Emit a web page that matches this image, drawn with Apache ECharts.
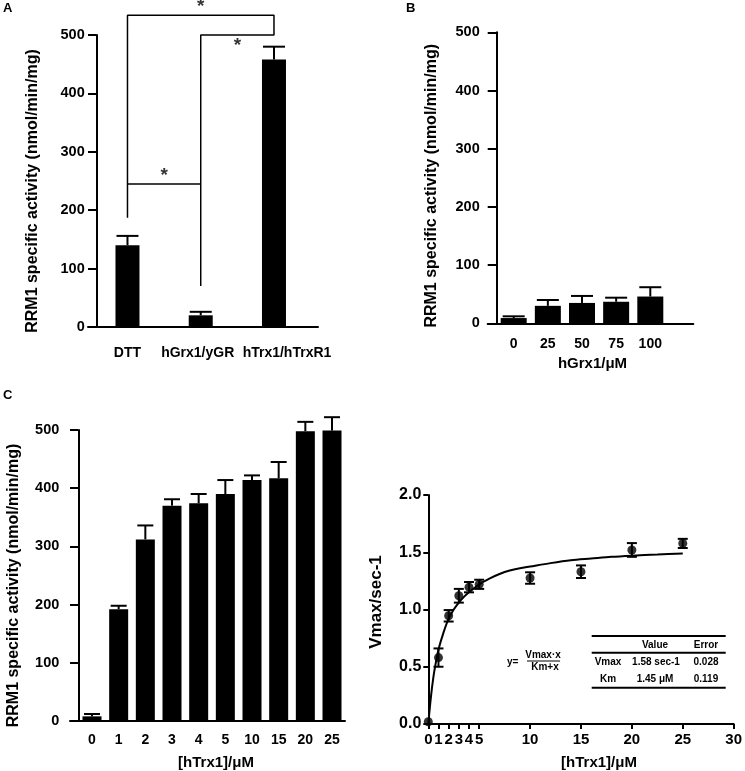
<!DOCTYPE html>
<html>
<head>
<meta charset="utf-8">
<script src="https://cdn.jsdelivr.net/npm/echarts@6/dist/echarts.min.js"></script>
<style>
html,body{margin:0;padding:0;background:#fff;}
#c{width:745px;height:771px;}
</style>
</head>
<body>
<div id="c"></div>
<script>
// ---- Panel A data ----
var catsA = ['DTT', 'hGrx1/yGR', 'hTrx1/hTrxR1'];
var meanA = [140, 20, 458];
var sdA = [16, 6, 22];
// significance brackets (category index, activity value)
var bracketA1 = [[0, 187], [0, 534], [2, 534], [2, 500], [1, 500], [1, 70]];
var bracketA2 = [[0, 245], [1, 245]];
var starsA = [[1, 534], [1.5, 500], [0.5, 245]];

// ---- Panel B data ----
var catsB = ['0', '25', '50', '75', '100'];
var meanB = [9, 30, 35, 37, 46];
var sdB = [3, 10, 12, 7, 16];

// ---- Panel C (bars) data ----
var catsC = ['0', '1', '2', '3', '4', '5', '10', '15', '20', '25'];
var meanC = [8, 192, 312, 370, 374, 390, 414, 417, 498, 499];
var sdC = [4, 6, 24, 11, 16, 24, 8, 28, 16, 23];

// ---- Panel C (kinetics) data ----
var xD = [0, 1, 2, 3, 4, 5, 10, 15, 20, 25];
var yD = [0.02, 0.58, 0.945, 1.12, 1.195, 1.22, 1.275, 1.33, 1.52, 1.577];
var eD = [0, 0.08, 0.05, 0.06, 0.045, 0.04, 0.05, 0.055, 0.06, 0.04];
// fitted curve
var fitX = [0, 0.25, 0.5, 0.75, 1, 1.5, 2, 2.5, 3, 3.5, 4, 5, 6, 7, 8, 9, 10, 12, 14, 16, 18, 20, 22.5, 25];
var fitY = [0, 0.23, 0.41, 0.54, 0.65, 0.80, 0.92, 1.00, 1.06, 1.11, 1.15, 1.22, 1.27, 1.31, 1.34, 1.36, 1.375, 1.405, 1.43, 1.445, 1.46, 1.47, 1.48, 1.49];
var xTicksD = [0, 1, 2, 3, 4, 5, 10, 15, 20, 25, 30];

var FONT = 'Liberation Sans';
var chart = echarts.init(document.getElementById('c'), null, {renderer: 'canvas'});

function idx(a) { return a.map(function (v, i) { return [i, v]; }); }
function errData(mean, sd) { return mean.map(function (v, i) { return [i, v, v + sd[i]]; }); }

function upErr(half) {
  return function (params, api) {
    var x = api.value(0), top = api.value(2);
    var a = api.coord([x, api.value(1)]), b = api.coord([x, top]);
    var st = {stroke: '#000', lineWidth: 2};
    return {type: 'group', children: [
      {type: 'line', shape: {x1: a[0], y1: a[1], x2: b[0], y2: b[1]}, style: st},
      {type: 'line', shape: {x1: b[0] - half, y1: b[1], x2: b[0] + half, y2: b[1]}, style: st}
    ]};
  };
}
function bothErr(half) {
  return function (params, api) {
    var x = api.value(0), y = api.value(1), e = api.value(2);
    if (!e) return null;
    var a = api.coord([x, y - e]), b = api.coord([x, y + e]);
    var st = {stroke: '#000', lineWidth: 2};
    return {type: 'group', children: [
      {type: 'line', shape: {x1: a[0], y1: a[1], x2: b[0], y2: b[1]}, style: st},
      {type: 'line', shape: {x1: a[0] - half, y1: a[1], x2: a[0] + half, y2: a[1]}, style: st},
      {type: 'line', shape: {x1: b[0] - half, y1: b[1], x2: b[0] + half, y2: b[1]}, style: st}
    ]};
  };
}

var lblStyle = {color: '#000', fontFamily: FONT, fontWeight: 'bold', fontSize: 14};
var nameStyle = {color: '#000', fontFamily: FONT, fontWeight: 'bold', fontSize: 15};
var axLine = {show: true, onZero: false, lineStyle: {color: '#000', width: 2}};

function barY(g, tickLen, margin, nameGap, namePad) {
  return {
    gridIndex: g,
    type: 'value', min: 0, max: 500, interval: 100, offset: -tickLen,
    axisLine: axLine, splitLine: {show: false},
    axisTick: {show: true, length: tickLen, lineStyle: {color: '#000', width: 2}},
    axisLabel: Object.assign({margin: margin}, lblStyle, {fontSize: 14.5}),
    name: 'RRM1 specific activity (nmol/min/mg)', nameLocation: 'middle', nameGap: nameGap,
    nameTextStyle: Object.assign({padding: namePad}, nameStyle, {fontSize: 16})
  };
}
function barX(g, cats, min, max, margin, rich, name, nameGap, namePad) {
  var ax = {
    gridIndex: g,
    type: 'value', min: min, max: max,
    axisLine: {show: true, onZero: false, lineStyle: {color: '#000', width: 2}},
    splitLine: {show: false}, axisTick: {show: false},
    axisLabel: Object.assign({
      margin: margin,
      customValues: cats.map(function (c, i) { return i; }),
      formatter: function (v) { var i = Math.round(v); return rich ? rich.fmt(i, cats[i]) : cats[i]; },
      rich: rich ? rich.styles : undefined
    }, lblStyle)
  };
  if (name) {
    ax.name = name; ax.nameLocation = 'middle'; ax.nameGap = nameGap;
    ax.nameTextStyle = Object.assign({padding: namePad}, nameStyle);
  }
  return ax;
}

var richA = {
  fmt: function (i, c) { return i === 2 ? '{r|' + c + '}' : (i === 1 ? '{m|' + c + '}' : c); },
  styles: {
    r: {padding: [0, 0, 0, 26], color: '#000', fontFamily: FONT, fontWeight: 'bold', fontSize: 14},
    m: {padding: [0, 6, 0, 0], color: '#000', fontFamily: FONT, fontWeight: 'bold', fontSize: 14}
  }
};

var option = {
  animation: false,
  backgroundColor: '#fff',
  grid: [
    {left: 88, top: 35, width: 230, height: 292},
    {left: 487.7, top: 32.3, width: 205.6, height: 291},
    {left: 70, top: 430, width: 275, height: 291},
    {left: 428.3, top: 495, width: 309.4, height: 229.3}
  ],
  xAxis: [
    barX(0, catsA, -0.539, 2.601, 19, richA),
    barX(1, catsB, -0.761, 5.259, 14, null, 'hGrx1/\u03bcM', 33, [0, 0, 0, 4]),
    barX(2, catsC, -0.825, 9.487, 12, null, '[hTrx1]/\u03bcM', 34, [0, 0, 0, 17]),
    {
      type: 'value', min: 0, max: 30, gridIndex: 3,
      axisLine: {show: true, onZero: false, lineStyle: {color: '#000', width: 2}},
      splitLine: {show: false},
      axisTick: {show: true, length: 5, customValues: xTicksD, lineStyle: {color: '#000', width: 2}},
      axisLabel: Object.assign({margin: 8, customValues: xTicksD}, lblStyle, {fontSize: 15}),
      name: '[hTrx1]/\u03bcM', nameLocation: 'middle', nameGap: 31,
      nameTextStyle: Object.assign({padding: [0, 0, 0, 36]}, nameStyle)
    }
  ],
  yAxis: [
    barY(0, 8.7, 12, 56, [0, 20, 0, 0]),
    barY(1, 9, 17, 57, [0, 16, 0, 0]),
    barY(2, 8.3, 19, 57, [0, 20, 0, 0]),
    {
      type: 'value', min: 0, max: 2, interval: 0.5, gridIndex: 3,
      axisLine: axLine, splitLine: {show: false},
      axisTick: {show: true, length: 5, lineStyle: {color: '#000', width: 2}},
      axisLabel: Object.assign({margin: 7, formatter: function (v) { return v.toFixed(1); }}, lblStyle, {fontSize: 16}),
      name: 'Vmax/sec-1', nameLocation: 'middle', nameGap: 43,
      nameTextStyle: Object.assign({padding: [0, 0, 0, 15]}, nameStyle, {fontSize: 17})
    }
  ],
  series: [
    // Panel A
    {type: 'bar', xAxisIndex: 0, yAxisIndex: 0, data: idx(meanA), barWidth: 24, itemStyle: {color: '#000'}},
    {type: 'custom', xAxisIndex: 0, yAxisIndex: 0, data: errData(meanA, sdA), renderItem: upErr(11), z: 1},
    {type: 'line', xAxisIndex: 0, yAxisIndex: 0, data: bracketA1, symbol: 'none', clip: false,
     lineStyle: {color: '#000', width: 1.5}},
    {type: 'line', xAxisIndex: 0, yAxisIndex: 0, data: bracketA2, symbol: 'none', clip: false,
     lineStyle: {color: '#000', width: 1.5}},
    {type: 'scatter', xAxisIndex: 0, yAxisIndex: 0, clip: false, symbolSize: 1,
     itemStyle: {color: 'rgba(0,0,0,0)'},
     data: [
       {value: starsA[0], label: {position: 'top', distance: -2}},
       {value: starsA[1], label: {position: 'bottom', distance: 1}},
       {value: starsA[2], label: {position: 'top', distance: -2}}
     ],
     label: {show: true, formatter: '*', color: '#000', fontFamily: FONT, fontWeight: 'bold', fontSize: 19}},
    // Panel B
    {type: 'bar', xAxisIndex: 1, yAxisIndex: 1, data: idx(meanB), barWidth: 26, itemStyle: {color: '#000'}},
    {type: 'custom', xAxisIndex: 1, yAxisIndex: 1, data: errData(meanB, sdB), renderItem: upErr(11), z: 1},
    // Panel C bars
    {type: 'bar', xAxisIndex: 2, yAxisIndex: 2, data: idx(meanC), barWidth: 19, itemStyle: {color: '#000'}},
    {type: 'custom', xAxisIndex: 2, yAxisIndex: 2, data: errData(meanC, sdC), renderItem: upErr(8), z: 1},
    // Panel C kinetics
    {type: 'line', xAxisIndex: 3, yAxisIndex: 3, data: fitX.map(function (x, i) { return [x, fitY[i]]; }),
     smooth: 0.3, symbol: 'none', lineStyle: {color: '#000', width: 2}},
    {type: 'custom', xAxisIndex: 3, yAxisIndex: 3, data: xD.map(function (x, i) { return [x, yD[i], eD[i]]; }),
     renderItem: bothErr(5), clip: false},
    {type: 'scatter', xAxisIndex: 3, yAxisIndex: 3, data: xD.map(function (x, i) { return [x, yD[i]]; }),
     symbolSize: 9, clip: false, itemStyle: {color: '#000'}, z: 5}
  ],
  graphic: [
    {type: 'text', left: 3, top: 2, style: {text: 'A', font: 'bold 13px "Liberation Sans"', fill: '#000'}},
    {type: 'text', left: 406, top: 2, style: {text: 'B', font: 'bold 13px "Liberation Sans"', fill: '#000'}},
    {type: 'text', left: 3, top: 389, style: {text: 'C', font: 'bold 13px "Liberation Sans"', fill: '#000'}},
    // formula
    {type: 'text', x: 507, y: 662, style: {text: 'y=', font: 'bold 10px "Liberation Sans"', fill: '#000', textVerticalAlign: 'middle'}},
    {type: 'text', x: 543, y: 655, style: {text: 'Vmax\u00b7x', font: 'bold 10px "Liberation Sans"', fill: '#000', textAlign: 'center', textVerticalAlign: 'middle'}},
    {type: 'line', shape: {x1: 527, y1: 661, x2: 560, y2: 661}, style: {stroke: '#000', lineWidth: 1}},
    {type: 'text', x: 545, y: 667, style: {text: 'Km+x', font: 'bold 10px "Liberation Sans"', fill: '#000', textAlign: 'center', textVerticalAlign: 'middle'}},
    // parameter table
    {type: 'line', shape: {x1: 591.7, y1: 636, x2: 725.7, y2: 636}, style: {stroke: '#000', lineWidth: 2}},
    {type: 'line', shape: {x1: 591.7, y1: 652.7, x2: 725.7, y2: 652.7}, style: {stroke: '#000', lineWidth: 2}},
    {type: 'line', shape: {x1: 591.7, y1: 687.7, x2: 725.7, y2: 687.7}, style: {stroke: '#000', lineWidth: 2}},
    {type: 'text', x: 655, y: 645, style: {text: 'Value', font: 'bold 10px "Liberation Sans"', fill: '#000', textAlign: 'center', textVerticalAlign: 'middle'}},
    {type: 'text', x: 706, y: 645, style: {text: 'Error', font: 'bold 10px "Liberation Sans"', fill: '#000', textAlign: 'center', textVerticalAlign: 'middle'}},
    {type: 'text', x: 608, y: 662, style: {text: 'Vmax', font: 'bold 10px "Liberation Sans"', fill: '#000', textAlign: 'center', textVerticalAlign: 'middle'}},
    {type: 'text', x: 656, y: 662, style: {text: '1.58 sec-1', font: 'bold 10px "Liberation Sans"', fill: '#000', textAlign: 'center', textVerticalAlign: 'middle'}},
    {type: 'text', x: 706, y: 662, style: {text: '0.028', font: 'bold 10px "Liberation Sans"', fill: '#000', textAlign: 'center', textVerticalAlign: 'middle'}},
    {type: 'text', x: 608, y: 679, style: {text: 'Km', font: 'bold 10px "Liberation Sans"', fill: '#000', textAlign: 'center', textVerticalAlign: 'middle'}},
    {type: 'text', x: 655, y: 679, style: {text: '1.45 \u03bcM', font: 'bold 10px "Liberation Sans"', fill: '#000', textAlign: 'center', textVerticalAlign: 'middle'}},
    {type: 'text', x: 706, y: 679, style: {text: '0.119', font: 'bold 10px "Liberation Sans"', fill: '#000', textAlign: 'center', textVerticalAlign: 'middle'}}
  ]
};
chart.setOption(option);
</script>
</body>
</html>
